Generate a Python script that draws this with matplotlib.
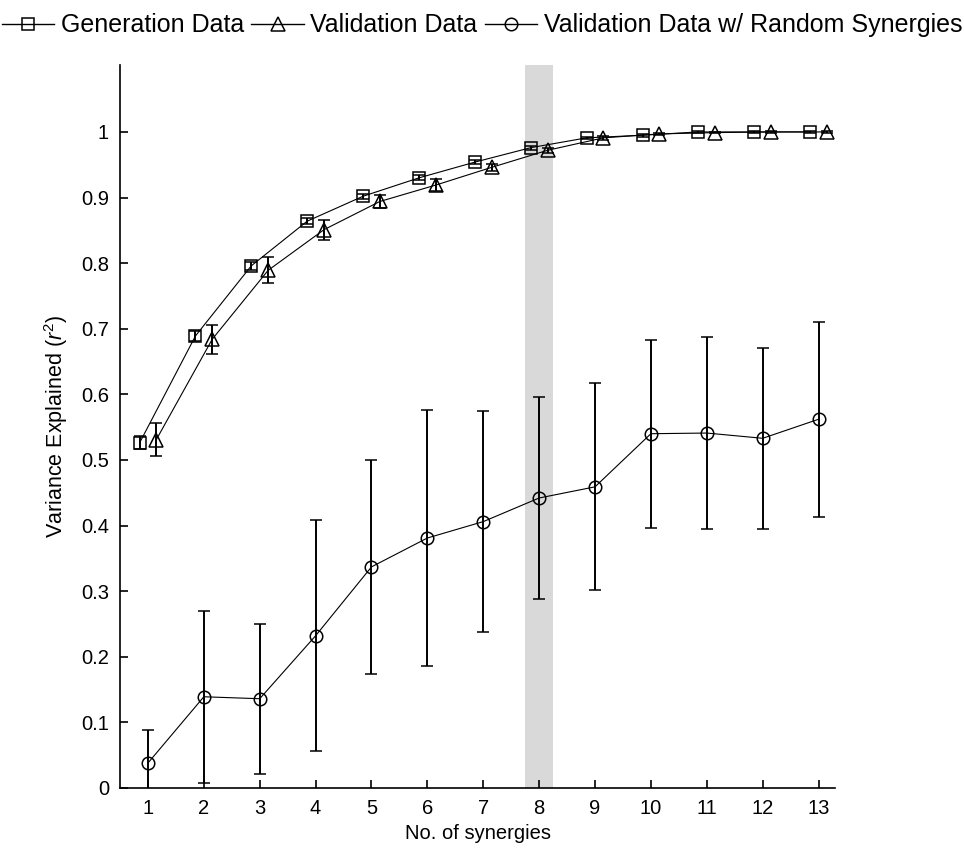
import numpy as np
import matplotlib
matplotlib.use('Agg')
import matplotlib.pyplot as plt
from matplotlib.lines import Line2D

plt.rcParams['font.family'] = ['Liberation Sans', 'DejaVu Sans']
plt.rcParams['mathtext.fontset'] = 'custom'
plt.rcParams['mathtext.rm'] = 'Liberation Sans'
plt.rcParams['mathtext.it'] = 'Liberation Sans:italic'

# === Datos ===
n_syn = np.arange(1, 14)

gen_mean = [0.526, 0.689, 0.796, 0.864, 0.902, 0.930, 0.954, 0.976, 0.991, 0.995, 1.000, 1.000, 1.000]
gen_err = [0.010, 0.008, 0.006, 0.005, 0.004, 0.004, 0.003, 0.003, 0.002, 0.002, 0.001, 0.001, 0.001]

val_mean = [0.531, 0.684, 0.789, 0.851, 0.894, 0.919, 0.946, 0.972, 0.991, 0.997, 0.999, 1.000, 1.000]
val_err = [0.025, 0.022, 0.020, 0.015, 0.010, 0.009, 0.005, 0.004, 0.003, 0.002, 0.001, 0.001, 0.001]

rnd_mean = [0.038, 0.139, 0.136, 0.232, 0.337, 0.381, 0.406, 0.442, 0.459, 0.540, 0.541, 0.533, 0.562]
rnd_err = [0.050, 0.131, 0.114, 0.176, 0.163, 0.195, 0.168, 0.154, 0.158, 0.143, 0.147, 0.138, 0.149]

x_ticks = list(range(1, 14))
y_ticks = [0, 0.1, 0.2, 0.3, 0.4, 0.5, 0.6, 0.7, 0.8, 0.9, 1]
y_tick_labels = ['0', '0.1', '0.2', '0.3', '0.4', '0.5', '0.6', '0.7', '0.8', '0.9', '1']

selected = 8  # numero de sinergias elegido (banda gris)

# === Figura ===
fig = plt.figure(figsize=(9.64, 8.5), dpi=100)
ax = fig.add_axes([0.1245, 0.073, 0.742, 0.8505])

ax.axvspan(selected - 0.25, selected + 0.25, color='#d9d9d9', lw=0, zorder=0)

err_kw = dict(color='black', ecolor='black', lw=0.8, elinewidth=1.4,
              capsize=4.5, capthick=1.4, mfc='none', mec='black', mew=1.1)

ax.errorbar(n_syn - 0.15, gen_mean, yerr=gen_err, marker='s', ms=8.5, **err_kw)
ax.errorbar(n_syn + 0.15, val_mean, yerr=val_err, marker='^', ms=9.5, **err_kw)
ax.errorbar(n_syn, rnd_mean, yerr=rnd_err, marker='o', ms=9, **err_kw)

ax.set_xlim(0.5, 13.3)
ax.set_ylim(0, 1.102)
ax.set_xticks(x_ticks)
ax.set_yticks(y_ticks)
ax.set_yticklabels(y_tick_labels)

ax.spines['top'].set_visible(False)
ax.spines['right'].set_visible(False)
ax.spines['left'].set_linewidth(1.2)
ax.spines['bottom'].set_linewidth(1.2)
ax.tick_params(direction='in', length=6, width=1.2, labelsize=14.5, pad=8)

ax.set_xlabel('No. of synergies', fontsize=14.5, labelpad=4)
ax.set_ylabel('Variance Explained ($r^2$)', fontsize=15.5, labelpad=8)

# leyenda sin barras de error
handles = [
    Line2D([], [], color='black', lw=1.0, marker='s', ms=8.5, mfc='none', mec='black', mew=1.1),
    Line2D([], [], color='black', lw=1.0, marker='^', ms=9.5, mfc='none', mec='black', mew=1.1),
    Line2D([], [], color='black', lw=1.0, marker='o', ms=9, mfc='none', mec='black', mew=1.1),
]
labels = ['Generation Data', 'Validation Data', 'Validation Data w/ Random Synergies']
fig.legend(handles, labels, loc='upper center', bbox_to_anchor=(0.5, 1.005), ncol=3,
           frameon=False, fontsize=18, handlelength=2.1, handletextpad=0.25,
           columnspacing=0.3, borderaxespad=0.3)

fig.savefig('out.png', dpi=100)
